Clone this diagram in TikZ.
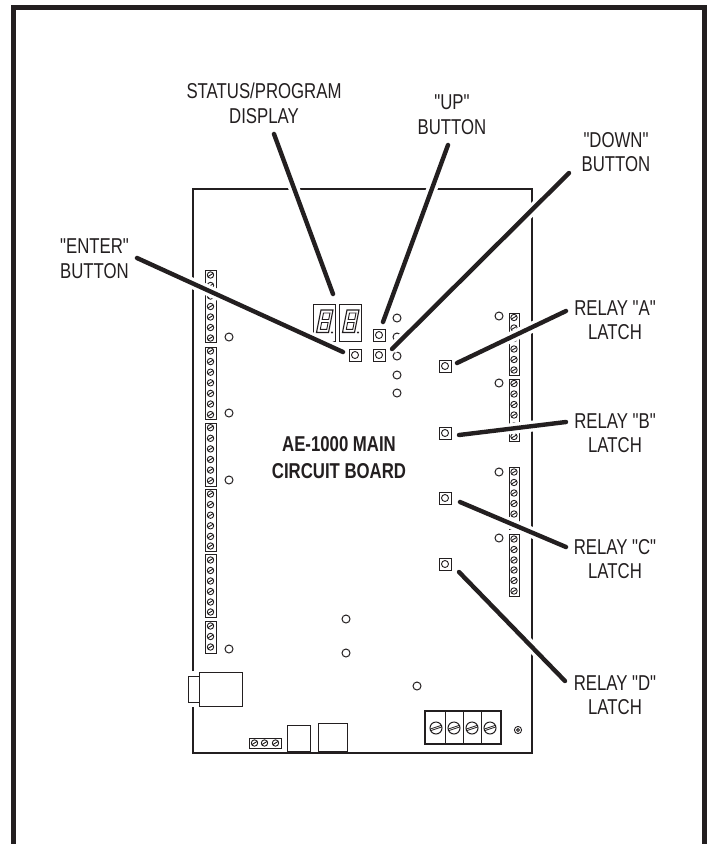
\documentclass[tikz,border=0pt]{standalone}
\usepackage{fontspec}
\newfontfamily\labelfont[FakeStretch=0.78]{Liberation Sans}
\definecolor{ink}{HTML}{231F20}
\tikzset{
  x=1pt,y=-1pt,
  every path/.style={color=ink},
  frameline/.style={line width=5pt,line join=miter},
  boardline/.style={line width=1.5pt,line join=miter},
  partline/.style={line width=1pt},
  thinpart/.style={line width=0.9pt},
  hole/.style={line width=1pt},
  leader/.style={line width=4.4pt,line cap=round,
    preaction={draw=white,line width=11pt,line cap=butt}},
  callout/.style={inner sep=0pt,align=center,text=ink,font=\labelfont\fontsize{21.5}{24.5}\selectfont},
  boldcallout/.style={callout,font=\labelfont\fontsize{21.5}{27}\bfseries\selectfont},
  btn/.style={draw=ink,line width=1pt,minimum size=12pt,inner sep=0pt,fill=white,
    path picture={\draw[line width=0.9pt] (path picture bounding box.center) circle[radius=3.5pt];}},
}
\newcommand{\screwcol}[2]{% x, list of y
  \foreach \yy in {#2}{
    \draw[thinpart] (#1,\yy) circle[radius=3.2pt];
    \draw[thinpart] (#1-2.8,\yy+1.7) -- (#1+2.8,\yy-1.7);
  }}
\newcommand{\bigscrew}[2]{%
  \draw[line width=1pt] (#1,#2) circle[radius=6pt];
  \draw[line width=0.8pt] (#1-5.6,#2+1.0) -- (#1+5.2,#2-2.6);
  \draw[line width=0.8pt] (#1-5.2,#2+2.6) -- (#1+5.6,#2-1.0);
}
\newcommand{\segdigit}[1]{% x offset
  \draw[line width=1.1pt] (#1+316.5,332.5) -- (#1+328.5,332.5) -- (#1+333,310) -- (#1+321,310) -- cycle;
  \draw[line width=0.9pt] (#1+320.3,329.3) -- (#1+326.8,329.3) -- (#1+328.1,322.5) -- (#1+321.6,322.5) -- cycle;
  \draw[line width=0.9pt] (#1+322.2,319.5) -- (#1+328.7,319.5) -- (#1+330,313) -- (#1+323.5,313) -- cycle;
  \fill (#1+332,332.5) circle[radius=1.1pt];
}
\begin{document}
\begin{tikzpicture}
\useasboundingbox (0,0) rectangle (709,844);
\fill[white] (0,0) rectangle (709,844);
% outer frame
\draw[frameline] (13.5,844) -- (13.5,7.5) -- (704.5,7.5) -- (704.5,844);
% board
\draw[boardline] (193,671) -- (193,189) -- (532,189) -- (532,753) -- (193,753) -- (193,707);
% left terminal strips
\draw[partline] (205,270) rectangle (216,342);
\screwcol{210.5}{275,285.5,296,306.5,317,327.5,338}
\draw[partline] (205,347) rectangle (216,419);
\screwcol{210.5}{351,361.6,372.2,382.8,393.4,404,414.6}
\draw[partline] (205,423) rectangle (216,486);
\screwcol{210.5}{427.7,438.3,448.9,459.5,470.1,480.7}
\draw[partline] (205,489) rectangle (216,551);
\screwcol{210.5}{494,504.6,515.2,525.8,536.4,546}
\draw[partline] (205,554) rectangle (216,617);
\screwcol{210.5}{560,570.5,581,591.5,602,612}
\draw[partline] (205,621) rectangle (216,653);
\screwcol{210.5}{626,636.5,647}
% right terminal strips
\draw[partline] (509,313) rectangle (519,375);
\screwcol{514}{317.5,328,338.5,349,359.5,370}
\draw[partline] (509,379) rectangle (519,441);
\screwcol{514}{383.5,394,404.5,415,426,436.5}
\draw[partline] (509,467) rectangle (519,529);
\screwcol{514}{472,482.5,493,503.5,514,524.5}
\draw[partline] (509,534) rectangle (519,596);
\screwcol{514}{539,549.5,560,570,580.5,591}
% test points
\foreach \px/\py in {229/337,229/413,229/480,229/649,346/619,346/653,
  397/318,397/337,397/356,397/375,397/393,499/316,499/383,499/472,499/538,417/686}
  \draw[hole] (\px,\py) circle[radius=4pt];
% display
\draw[partline] (313,304) rectangle (335,341);
\draw[partline] (339,304) rectangle (361,341);
\segdigit{0}
\segdigit{26}
% buttons
\node[btn] (enter) at (355,355) {};
\node[btn] (up) at (379,335) {};
\node[btn] (down) at (379,355) {};
\node[btn] (latchA) at (445,366) {};
\node[btn] (latchB) at (445,433) {};
\node[btn] (latchC) at (445,498) {};
\node[btn] (latchD) at (445,564) {};
% bottom parts
\draw[line width=1pt] (199,672) rectangle (242,706);
\draw[line width=1pt] (199,676) -- (188,676) -- (188,702) -- (199,702);
\draw[partline] (249,738) rectangle (281,748);
\screwcol{254.5}{743}
\screwcol{264.5}{743}
\screwcol{275.5}{743}
\draw[line width=1pt] (287,725) rectangle (310,751);
\draw[line width=1pt] (318,723) rectangle (347,751);
% power terminal block
\draw[line width=1.6pt] (425,711) rectangle (501,744);
\draw[line width=1pt] (445,711) -- (445,744) (463,711) -- (463,744) (481,711) -- (481,744);
\bigscrew{436}{728}
\bigscrew{454}{728}
\bigscrew{472}{728}
\bigscrew{490}{728}
\draw[line width=0.9pt] (518,730) circle[radius=3.6pt];
\draw[line width=0.9pt] (518,730) circle[radius=1.4pt];
% leader ends
\coordinate (lEnter) at (137,258);  \coordinate (tEnter) at (343,352);
\coordinate (lStatus) at (274,134); \coordinate (tStatus) at (333,294);
\coordinate (lUp) at (448,145);     \coordinate (tUp) at (383,322);
\coordinate (lDown) at (569,173);   \coordinate (tDown) at (392,349);
\coordinate (lA) at (566,311);      \coordinate (tA) at (457,363);
\coordinate (lB) at (566,422);      \coordinate (tB) at (459,435);
\coordinate (lC) at (566,547);      \coordinate (tC) at (460,502);
\coordinate (lD) at (565,681);      \coordinate (tD) at (459,572);
\draw[leader] (lEnter) -- (tEnter);
\draw[leader] (lStatus) -- (tStatus);
\draw[leader] (lUp) -- (tUp);
\draw[leader] (lDown) -- (tDown);
\draw[leader] (lA) -- (tA);
\draw[leader] (lB) -- (tB);
\draw[leader] (lC) -- (tC);
\draw[leader] (lD) -- (tD);
% labels
\node[callout] (nStatus) at (264,103.5) {STATUS/PROGRAM\\DISPLAY};
\node[callout] (nUp) at (452,114.5) {"UP"\\BUTTON};
\node[callout] (nDown) at (616,152) {"DOWN"\\BUTTON};
\node[callout] (nEnter) at (94.5,258.5) {"ENTER"\\BUTTON};
\node[callout] (nA) at (615,320) {RELAY "A"\\LATCH};
\node[callout] (nB) at (615,433) {RELAY "B"\\LATCH};
\node[callout] (nC) at (615,559) {RELAY "C"\\LATCH};
\node[callout] (nD) at (615,695) {RELAY "D"\\LATCH};
\node[boldcallout] (nBoard) at (339,458) {AE-1000 MAIN\\CIRCUIT BOARD};
\end{tikzpicture}
\end{document}
